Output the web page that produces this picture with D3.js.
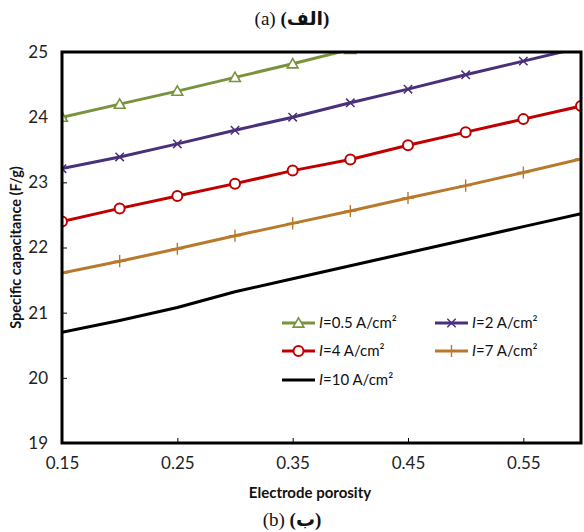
<!DOCTYPE html>
<html><head><meta charset="utf-8">
<script src="https://cdn.jsdelivr.net/npm/d3@7"></script>
<style>
html,body{margin:0;padding:0;background:#fff;}
svg{display:block;}
</style></head>
<body>
<script>
const porosity = [0.15, 0.20, 0.25, 0.30, 0.35, 0.40, 0.45, 0.50, 0.55, 0.60];
const currentLabels = ["=0.5 A/cm²", "=2 A/cm²", "=4 A/cm²", "=7 A/cm²", "=10 A/cm²"];
const s_I05 = [24.00, 24.20, 24.40, 24.61, 24.82, 25.04, 25.25, 25.46, 25.67, 25.88];
const s_I2  = [23.21, 23.39, 23.59, 23.80, 24.00, 24.22, 24.43, 24.65, 24.86, 25.07];
const s_I4  = [22.40, 22.60, 22.79, 22.98, 23.18, 23.35, 23.57, 23.77, 23.97, 24.17];
const s_I7  = [21.61, 21.79, 21.98, 22.18, 22.37, 22.56, 22.76, 22.95, 23.15, 23.36];
const s_I10 = [20.70, 20.88, 21.08, 21.32, 21.52, 21.72, 21.92, 22.12, 22.32, 22.52];
const xTicks = [0.15, 0.25, 0.35, 0.45, 0.55];
const yTicks = [19, 20, 21, 22, 23, 24, 25];

const series = [
  {name: currentLabels[0], values: s_I05, color: "#77933C", marker: "triangle"},
  {name: currentLabels[1], values: s_I2,  color: "#4A2F7A", marker: "x"},
  {name: currentLabels[2], values: s_I4,  color: "#C00000", marker: "circle"},
  {name: currentLabels[3], values: s_I7,  color: "#B8792A", marker: "plus"},
  {name: currentLabels[4], values: s_I10, color: "#000000", marker: "none"}
];

const W = 584, H = 532;
const m = {left: 62, right: 3, top: 52, bottom: 89};
const svg = d3.select("body").append("svg").attr("width", W).attr("height", H);

const x = d3.scaleLinear().domain([0.15, 0.60]).range([m.left, W - m.right]);
const y = d3.scaleLinear().domain([19, 25]).range([H - m.bottom, m.top]);

// titles
const serif = "'Liberation Serif','DejaVu Serif','DejaVu Sans',serif";
function title(yy, latin, arabic) {
  const t = svg.append("text").attr("x", 292).attr("y", yy).attr("text-anchor", "middle")
    .attr("font-family", serif).attr("font-size", 19).attr("fill", "#111");
  t.append("tspan").text(latin + " ");
  t.append("tspan").attr("font-weight", "bold").text(arabic);
}
title(25, "(a)", "(الف)");
title(526, "(b)", "(ب)");

const sans = "Lato,'Open Sans',sans-serif";

// clip
svg.append("clipPath").attr("id", "plotclip").append("rect")
  .attr("x", m.left).attr("y", m.top)
  .attr("width", W - m.right - m.left).attr("height", H - m.bottom - m.top);

// axes
const xAxis = d3.axisBottom(x).tickValues(xTicks).tickSize(-5).tickPadding(14)
  .tickFormat(d3.format(".2f"));
const gx = svg.append("g").attr("transform", `translate(0,${H - m.bottom})`).call(xAxis);
gx.select(".domain").remove();
gx.selectAll("line").attr("stroke", "#000").attr("stroke-width", 1);
gx.selectAll("text").attr("font-family", sans).attr("font-size", 17).attr("fill", "#222");

const yAxis = d3.axisLeft(y).tickValues(yTicks).tickSize(-5).tickPadding(14)
  .tickFormat(d3.format("d"));
const gy = svg.append("g").attr("transform", `translate(${m.left},0)`).call(yAxis);
gy.select(".domain").remove();
gy.selectAll("line").attr("stroke", "#000").attr("stroke-width", 1);
gy.selectAll("text").attr("font-family", sans).attr("font-size", 17).attr("fill", "#222");

// axis titles
svg.append("text").attr("x", 310).attr("y", 498).attr("text-anchor", "middle")
  .attr("font-family", sans).attr("font-weight", "bold").attr("font-size", 15).attr("fill", "#111")
  .text("Electrode porosity");
svg.append("text").attr("transform", `translate(21,${(m.top + H - m.bottom) / 2}) rotate(-90)`)
  .attr("text-anchor", "middle")
  .attr("font-family", sans).attr("font-weight", "bold").attr("font-size", 14.5).attr("fill", "#111")
  .text("Specific capacitance (F/g)");

// lines
const line = d3.line().x((d, i) => x(porosity[i])).y(d => y(d));
const plot = svg.append("g").attr("clip-path", "url(#plotclip)");

function drawMarker(g, type, color, cx, cy) {
  if (type === "triangle") {
    g.append("path").attr("d", d3.symbol(d3.symbolTriangle, 50)())
      .attr("transform", `translate(${cx},${cy + 1})`)
      .attr("fill", "#fff").attr("stroke", color).attr("stroke-width", 1.6);
  } else if (type === "circle") {
    g.append("circle").attr("cx", cx).attr("cy", cy).attr("r", 5)
      .attr("fill", "#fff").attr("stroke", color).attr("stroke-width", 2);
  } else if (type === "x") {
    g.append("path").attr("d", d3.symbol(d3.symbolX, 48)())
      .attr("transform", `translate(${cx},${cy})`)
      .attr("fill", "none").attr("stroke", color).attr("stroke-width", 1.5);
  } else if (type === "plus") {
    g.append("path").attr("d", d3.symbol(d3.symbolCross2 || d3.symbolPlus, 50)())
      .attr("transform", `translate(${cx},${cy})`)
      .attr("fill", "none").attr("stroke", color).attr("stroke-width", 1.4);
  }
}

series.forEach(s => {
  plot.append("path").datum(s.values).attr("d", line)
    .attr("fill", "none").attr("stroke", s.color).attr("stroke-width", 3)
    .attr("stroke-linejoin", "round");
  if (s.marker !== "none") {
    const mg = plot.append("g");
    s.values.forEach((v, i) => drawMarker(mg, s.marker, s.color, x(porosity[i]), y(v)));
  }
});

// frame
svg.append("rect").attr("x", m.left).attr("y", m.top)
  .attr("width", W - m.right - m.left).attr("height", H - m.bottom - m.top)
  .attr("fill", "none").attr("stroke", "#000").attr("stroke-width", 3);

// legend
const legPos = [[282, 323], [435, 323], [282, 351], [435, 351], [282, 380]];
series.forEach((s, i) => {
  const [lx, ly] = legPos[i];
  const g = svg.append("g");
  g.append("line").attr("x1", lx).attr("x2", lx + 33).attr("y1", ly).attr("y2", ly)
    .attr("stroke", s.color).attr("stroke-width", 3);
  if (s.marker !== "none") drawMarker(g, s.marker, s.color, lx + 16.5, ly);
  const t = g.append("text").attr("x", lx + 37).attr("y", ly + 5)
    .attr("font-family", sans).attr("font-size", 15).attr("fill", "#111");
  t.append("tspan").attr("font-style", "italic").text("I");
  t.append("tspan").text(s.name);
});
</script>
</body></html>
